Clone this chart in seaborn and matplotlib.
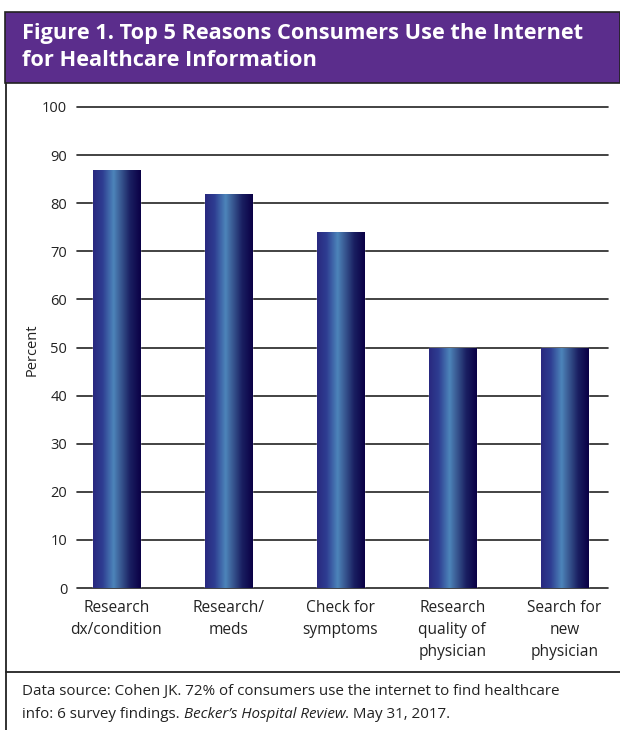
import numpy as np
import pandas as pd
import matplotlib
matplotlib.use("Agg")
import matplotlib.pyplot as plt
from matplotlib.colors import LinearSegmentedColormap
from matplotlib.patches import Rectangle
from matplotlib.lines import Line2D
import seaborn as sns

categories = ["Research\ndx/condition", "Research/\nmeds", "Check for\nsymptoms",
              "Research\nquality of\nphysician", "Search for\nnew\nphysician"]
values = [87, 82, 74, 50, 50]
yticks = [0, 10, 20, 30, 40, 50, 60, 70, 80, 90, 100]
title = "Figure 1. Top 5 Reasons Consumers Use the Internet\nfor Healthcare Information"
ylabel = "Percent"

sns.set_theme(style="white")
plt.rcParams['font.family'] = ['Open Sans', 'DejaVu Sans']

W, H = 620, 730
fig = plt.figure(figsize=(W/100, H/100), dpi=100)

def fx(px): return px / W
def fy(py): return 1 - py / H

# purple title band
fig.patches.append(Rectangle((fx(5), fy(83)), fx(620-5), fy(12)-fy(83), transform=fig.transFigure,
                             facecolor="#5b2d8c", edgecolor="#222222", linewidth=1.2, zorder=0))
fig.text(fx(22), fy(47), title, color="white", fontsize=15.7, fontweight="bold",
         va="center", ha="left", linespacing=1.38)
# frame lines
fig.add_artist(Line2D([fx(6), fx(6)], [fy(83), fy(730)], transform=fig.transFigure, color="#222222", lw=1.3))
fig.add_artist(Line2D([fx(6), fx(620)], [fy(672), fy(672)], transform=fig.transFigure, color="#222222", lw=1.3))

ax = fig.add_axes([fx(77), fy(588), fx(608) - fx(77), fy(107) - fy(588)])
df = pd.DataFrame({"cat": categories, "val": values})
sns.barplot(data=df, x="cat", y="val", ax=ax, width=0.42, color="#2a2a80", saturation=1, zorder=3)
ax.set_xlim(-0.35, 4.39)
ax.set_ylim(0, 100)
for s in ax.spines.values():
    s.set_visible(False)

for t in yticks:
    ax.axhline(t, color="#222222", lw=1.2, zorder=1, clip_on=False)

# gradient fill on bars
cmap = LinearSegmentedColormap.from_list("bar", [
    (0.0, (0.16, 0.16, 0.50)),
    (0.2, (0.18, 0.24, 0.57)),
    (0.43, (0.30, 0.52, 0.73)),
    (0.55, (0.24, 0.38, 0.60)),
    (0.78, (0.10, 0.12, 0.38)),
    (1.0, (0.04, 0.0, 0.27)),
])
grad = np.linspace(0, 1, 256).reshape(1, -1)
for p in ax.patches:
    x0, y0 = p.get_x(), p.get_y()
    w, h = p.get_width(), p.get_height()
    im = ax.imshow(grad, cmap=cmap, aspect="auto", extent=[x0, x0 + w, y0, y0 + h],
                   zorder=4, interpolation="bilinear")
    im.set_clip_path(p)
ax.set_xlim(-0.35, 4.39)
ax.set_ylim(0, 100)

ax.set_yticks(yticks)
ax.set_yticklabels([str(t) for t in yticks], fontsize=10.5, color="#222222")
ax.tick_params(axis="y", length=0, pad=7)
ax.tick_params(axis="x", length=0, pad=9)
ax.set_xticks(range(len(categories)))
ax.set_xticklabels(categories, fontsize=11.2, color="#222222", linespacing=1.5, va="top")
ax.set_xlabel("")
ax.set_ylabel("")
fig.text(fx(32), fy(350), ylabel, rotation=90, fontsize=10.5, color="#222222", ha="center", va="center")

fs = 10.9
fig.text(fx(22), fy(692), "Data source: Cohen JK. 72% of consumers use the internet to find healthcare",
         fontsize=fs, color="#222222", va="center", ha="left")
fig.text(fx(22), fy(714), "info: 6 survey findings. ", fontsize=fs, color="#222222", va="center", ha="left")
r = fig.canvas.get_renderer()
t1 = fig.texts[-1]
bb = t1.get_window_extent(r)
t2 = fig.text(bb.x1 / W, fy(714), "Becker\u2019s Hospital Review", fontsize=fs, style="italic",
              color="#222222", va="center", ha="left")
bb2 = t2.get_window_extent(r)
fig.text(bb2.x1 / W, fy(714), ". May 31, 2017.", fontsize=fs, color="#222222", va="center", ha="left")

fig.savefig("out.png", dpi=100)
